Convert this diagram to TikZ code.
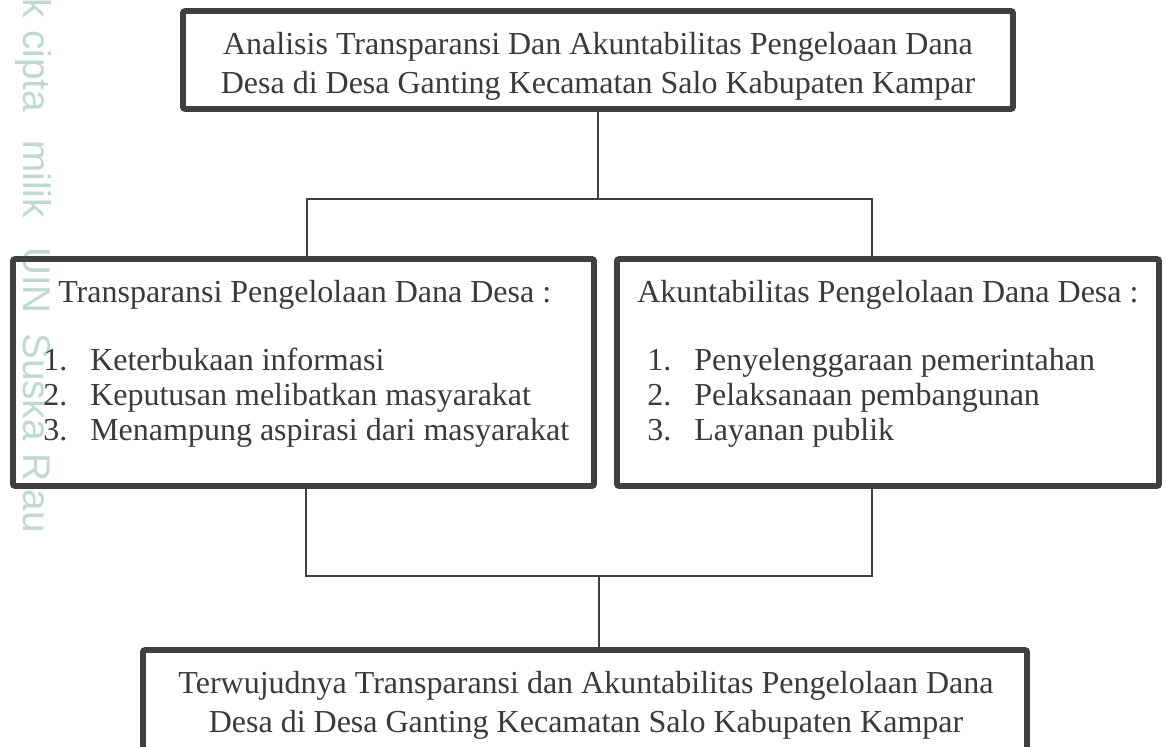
\documentclass[tikz,border=0pt]{standalone}
\usepackage{fontspec}
\setmainfont{Liberation Serif}
\newfontfamily\wmfont{Liberation Sans}
\definecolor{ink}{HTML}{3A3A3A}
\definecolor{edge}{HTML}{404040}
\definecolor{wm}{HTML}{C0D8D2}
\begin{document}
\begin{tikzpicture}[x=0.75pt,y=-0.75pt,
  box/.style={draw=edge, line width=4.3pt, rounded corners=1.5pt, inner sep=0pt},
  conn/.style={draw=edge, line width=1.1pt},
  txt/.style={text=ink, font=\fontsize{24}{30}\selectfont, inner sep=0pt, anchor=base},
  ltxt/.style={txt, anchor=base west},
  wmark/.style={text=wm, font=\wmfont\fontsize{29}{29}\selectfont, rotate=-90, inner sep=0pt, anchor=base west}
]
\useasboundingbox (0,0) rectangle (1166,746);
\fill[white] (0,0) rectangle (1166,746);

% watermark
\node[wmark] (w1) at (23,-2) {k};
\node[wmark] (w2) at (23,30) {cipta};
\node[wmark] (w3) at (23,140) {milik};
\node[wmark] (w4) at (23,247) {UIN};
\node[wmark] (w5) at (23,333) {Suska};
\node[wmark] (w6) at (23,453) {Riau};

% boxes
\node[box, minimum width=622.5pt, minimum height=73.5pt] (top) at (598,60) {};
\node[box, minimum width=435.75pt, minimum height=170.25pt] (left) at (303.5,372.5) {};
\node[box, minimum width=406.5pt, minimum height=170.25pt] (right) at (888,372.5) {};
\node[box, minimum width=663pt, minimum height=150pt] (bottom) at (585,750) {};

% connectors
\coordinate (jl) at (307,199);
\coordinate (jr) at (872,199);
\draw[conn] (top.south) -- (top.south |- jl);
\draw[conn] (jl |- left.north) -- (jl) -- (jr) -- (jr |- right.north);
\coordinate (kl) at (306,576);
\coordinate (kr) at (872,576);
\coordinate (km) at (599,576);
\draw[conn] (kl |- left.south) -- (kl) -- (kr) -- (kr |- right.south);
\draw[conn] (km) -- (km |- bottom.north);

% texts
\node[txt] (t1) at (598,54) {Analisis Transparansi Dan Akuntabilitas Pengeloaan Dana};
\node[txt] (t2) at (598,93) {Desa di Desa Ganting Kecamatan Salo Kabupaten Kampar};

\node[ltxt] (lh) at (58,302) {Transparansi Pengelolaan Dana Desa :};
\node[ltxt] (ln1) at (43,370) {1.};
\node[ltxt] (li1) at (90,370) {Keterbukaan informasi};
\node[ltxt] (ln2) at (43,405) {2.};
\node[ltxt] (li2) at (90,405) {Keputusan melibatkan masyarakat};
\node[ltxt] (ln3) at (43,440) {3.};
\node[ltxt] (li3) at (90,440) {Menampung aspirasi dari masyarakat};

\node[ltxt] (rh) at (637,302) {Akuntabilitas Pengelolaan Dana Desa :};
\node[ltxt] (rn1) at (647,370) {1.};
\node[ltxt] (ri1) at (694,370) {Penyelenggaraan pemerintahan};
\node[ltxt] (rn2) at (647,405) {2.};
\node[ltxt] (ri2) at (694,405) {Pelaksanaan pembangunan};
\node[ltxt] (rn3) at (647,440) {3.};
\node[ltxt] (ri3) at (694,440) {Layanan publik};

\node[txt] (b1) at (586,693) {Terwujudnya Transparansi dan Akuntabilitas Pengelolaan Dana};
\node[txt] (b2) at (586,732) {Desa di Desa Ganting Kecamatan Salo Kabupaten Kampar};
\end{tikzpicture}
\end{document}
